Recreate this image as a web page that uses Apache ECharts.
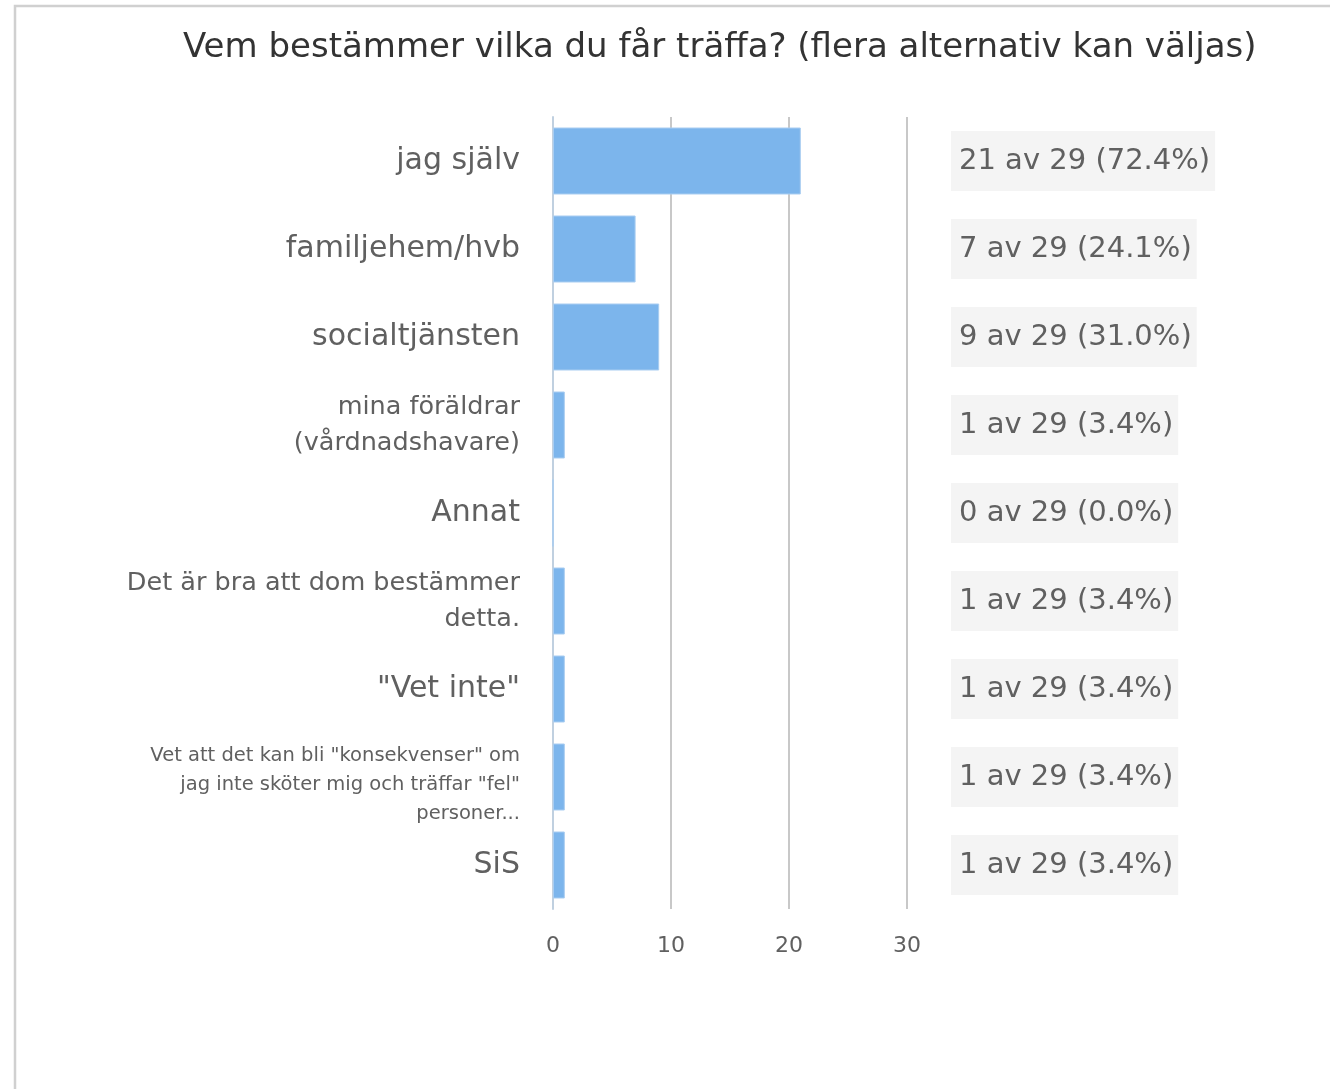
<!DOCTYPE html>
<html>
<head>
<meta charset="utf-8">
<script src="https://cdn.jsdelivr.net/npm/echarts@6/dist/echarts.min.js"></script>
<style>
  html, body { margin: 0; padding: 0; background: #fff; }
  #chart { width: 1330px; height: 1089px; }
</style>
</head>
<body>
<div id="chart"></div>
<script>
// svarsalternativ
const categories = [
  'jag själv',
  'familjehem/hvb',
  'socialtjänsten',
  'mina föräldrar\n(vårdnadshavare)',
  'Annat',
  'Det är bra att dom bestämmer\ndetta.',
  '"Vet inte"',
  'Vet att det kan bli "konsekvenser" om\njag inte sköter mig och träffar "fel"\npersoner...',
  'SiS',
];
const values = [21, 7, 9, 1, 0, 1, 1, 1, 1];
const total = 29;
const xTicks = [0, 10, 20, 30];

const rightLabels = values.map(v => `${v} av ${total} (${(v / total * 100).toFixed(1)}%)`);

const chart = echarts.init(document.getElementById('chart'));
const font = '"DejaVu Sans", Verdana, sans-serif';

chart.setOption({
  animation: false,
  textStyle: { fontFamily: font },
  title: {
    text: 'Vem bestämmer vilka du får träffa? (flera alternativ kan väljas)',
    left: 178,
    top: 26,
    textStyle: { fontSize: 34, fontWeight: 'normal', color: '#333', fontFamily: font },
  },
  graphic: [{
    type: 'polyline',
    shape: { points: [[15, 1089], [15, 6], [1330, 6]] },
    style: { stroke: '#d0d0d0', lineWidth: 2.5, fill: null },
    silent: true,
  }],
  grid: { left: 553, right: 423, top: 117, bottom: 180 },
  xAxis: {
    type: 'value',
    min: xTicks[0],
    max: xTicks[xTicks.length - 1],
    interval: 10,
    axisLine: { show: false },
    axisTick: { show: false },
    splitLine: { lineStyle: { color: '#c8c8c8', width: 2 } },
    axisLabel: { fontSize: 22, color: '#606060', margin: 26, fontFamily: font },
  },
  yAxis: [{
    type: 'category',
    data: categories,
    inverse: true,
    axisLine: { show: true, lineStyle: { color: '#c0d0e0', width: 2 } },
    axisTick: { show: false },
    axisLabel: {
      margin: 33,
      color: '#606060',
      formatter: (val) => {
        const lines = val.split('\n');
        const s = lines.length === 1 ? 'big' : (lines.length === 2 ? 'mid' : 'small');
        const out = lines.map(l => `{${s}|${l}}`);
        // långa etiketter sitter lite lägre i originalet
        if (s === 'small') out.unshift('{gap| }');
        return out.join('\n');
      },
      rich: {
        big: { fontSize: 30, lineHeight: 36, color: '#606060', fontFamily: font, align: 'right' },
        mid: { fontSize: 25.5, lineHeight: 36, color: '#606060', fontFamily: font, align: 'right' },
        small: { fontSize: 19.5, lineHeight: 29, color: '#606060', fontFamily: font, align: 'right' },
        gap: { fontSize: 10, lineHeight: 16, align: 'right' },
      },
    },
  }, {
    type: 'category',
    data: rightLabels,
    inverse: true,
    position: 'right',
    axisLine: { show: false },
    axisTick: { show: false },
    axisLabel: {
      margin: 44,
      align: 'left',
      fontSize: 29,
      lineHeight: 30,
      color: '#606060',
      fontFamily: font,
      backgroundColor: '#f4f4f4',
      padding: [15, 5, 15, 8],
    },
  }],
  series: [{
    type: 'bar',
    data: values,
    barWidth: 67,
    itemStyle: { color: '#7cb5ec', borderColor: '#a9cdf1', borderWidth: 1 },
  }],
});
</script>
</body>
</html>
